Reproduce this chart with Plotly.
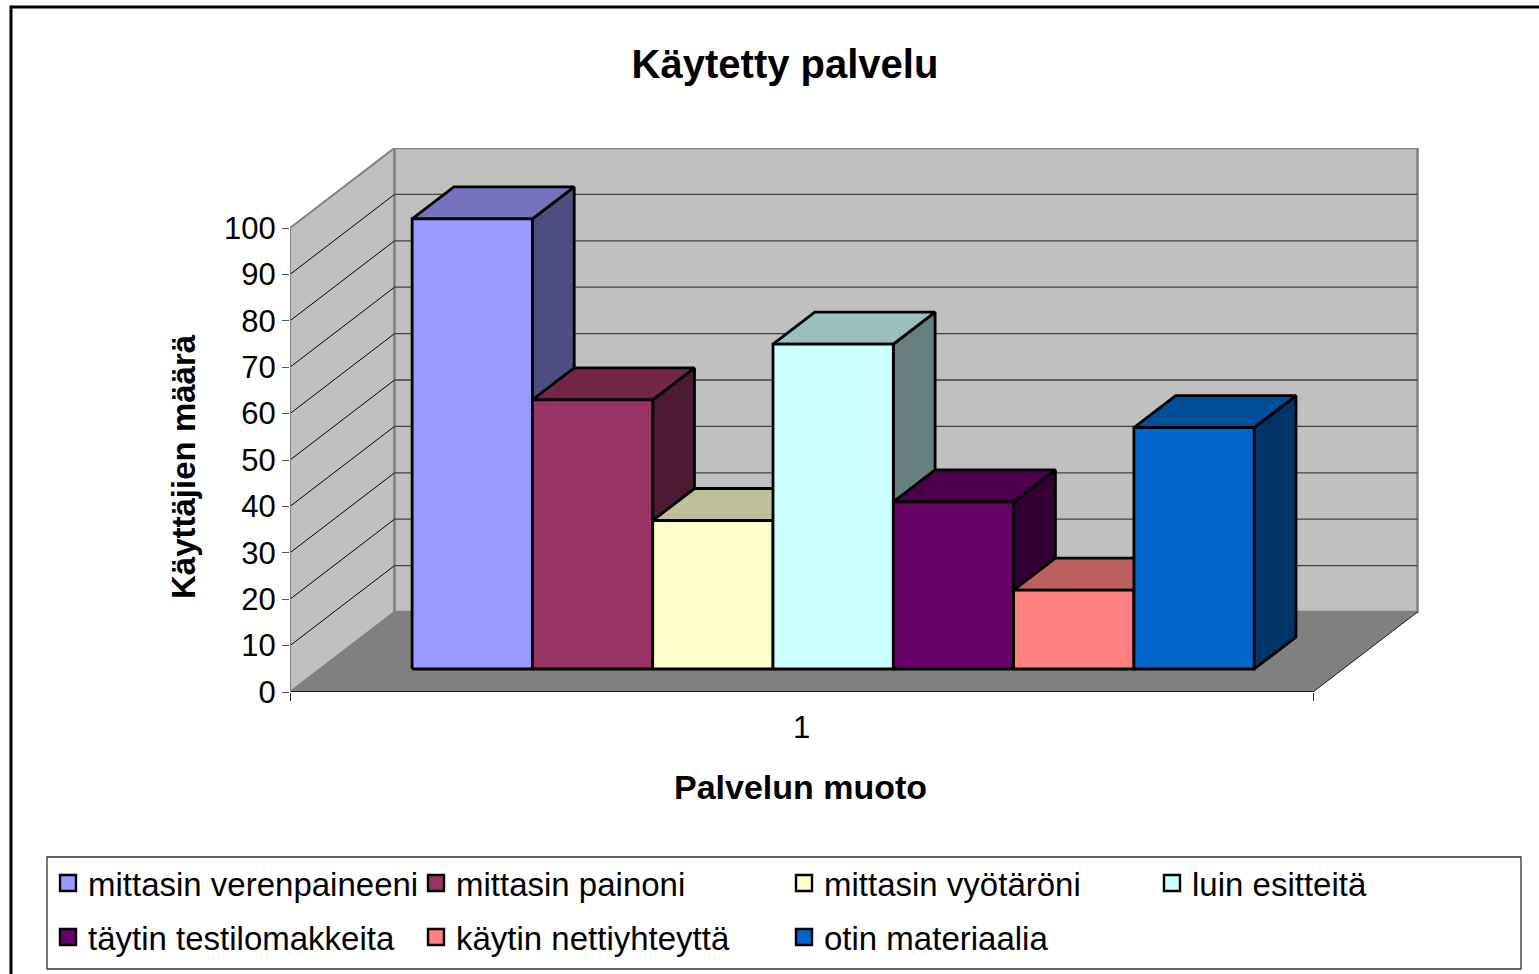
import plotly.graph_objects as go

TITLE = "Käytetty palvelu"
Y_TITLE = "Käyttäjien määrä"
X_TITLE = "Palvelun muoto"
CATEGORY = ["1"]
SERIES = ["mittasin verenpaineeni", "mittasin painoni", "mittasin vyötäröni", "luin esitteitä",
          "täytin testilomakkeita", "käytin nettiyhteyttä", "otin materiaalia"]
VALUES = [97, 58, 32, 70, 36, 17, 52]
COLORS = ["#9999FF", "#993366", "#FFFFCC", "#CCFFFF", "#660066", "#FF8080", "#0066CC"]
TOP_COLORS = ["#7373BF", "#732648", "#BFBF99", "#99BFBF", "#4D004D", "#BF6060", "#004D99"]
SIDE_COLORS = ["#4D4D80", "#4D1A33", "#808066", "#668080", "#330033", "#804040", "#003366"]
Y_TICKS = [0, 10, 20, 30, 40, 50, 60, 70, 80, 90, 100]

W, H = 1539, 974
L, R, T, B = 290, 1530, 148, 692          # plot area in pixels (wide enough for the legend rows)
PX_X = 1023.0                             # pixels per x unit (front width)
PX_Y = 4.64                               # pixels per y unit
DX = 104.5 / PX_X                         # depth projection in axis units
DY = 80.0 / PX_Y
D0, D1 = 0.2875, 0.6875                   # bar depth span
X0, BW = 0.09, 120.3 / PX_X               # first bar position, bar width
FONT = "Liberation Sans, Arial, sans-serif"


def px(x):
    return (x - L) / (R - L)


def py(y):
    return (B - y) / (B - T)


def P(x, y, d=0.0):
    return x + d * DX, y + d * DY


def poly(points, fill, line_color, line_width, name=""):
    xs = [p[0] for p in points] + [points[0][0]]
    ys = [p[1] for p in points] + [points[0][1]]
    return go.Scatter(x=xs, y=ys, mode="lines", fill="toself", fillcolor=fill,
                      line=dict(color=line_color, width=line_width), name=name,
                      showlegend=False, hoverinfo="skip", cliponaxis=False)


def seg(x, y, color, width):
    return go.Scatter(x=x, y=y, mode="lines", line=dict(color=color, width=width),
                      showlegend=False, hoverinfo="skip", cliponaxis=False)


YMAX = Y_TICKS[-1]
fig = go.Figure()

# walls and floor
fig.add_trace(poly([P(0, 0), P(0, 0, 1), P(0, YMAX, 1), P(0, YMAX)], "#C0C0C0", "#808080", 2))
fig.add_trace(poly([P(0, 0, 1), P(1, 0, 1), P(1, YMAX, 1), P(0, YMAX, 1)], "#C0C0C0", "#808080", 2.5))

# gridlines
gx, gy, bx, by = [], [], [], []
for v in Y_TICKS[1:-1]:
    a, b, c = P(0, v), P(0, v, 1), P(1, v, 1)
    gx += [a[0], b[0], None]
    gy += [a[1], b[1], None]
    bx += [b[0], c[0], None]
    by += [b[1], c[1], None]
fig.add_trace(seg(gx, gy, "#000000", 1))
fig.add_trace(seg(bx, by, "#404040", 1.3))

fig.add_trace(poly([P(0, 0), P(1, 0), P(1, 0, 1), P(0, 0, 1)], "#808080", "#808080", 0.5))
# floor edges and value axis
fig.add_trace(seg([P(1, 0)[0], P(1, 0, 1)[0]], [P(1, 0)[1], P(1, 0, 1)[1]], "#202020", 1))
fig.add_trace(seg([0, 1], [0, 0], "#000000", 1.3))
fig.add_trace(seg([0, 0], [0, YMAX], "#808080", 2))

# bars, drawn left to right so that each one hides the side of the previous one
LW = 2.8
for i, (v, c, tc, sc) in enumerate(zip(VALUES, COLORS, TOP_COLORS, SIDE_COLORS)):
    x0, x1 = X0 + i * BW, X0 + (i + 1) * BW
    fig.add_trace(poly([P(x1, 0, D0), P(x1, 0, D1), P(x1, v, D1), P(x1, v, D0)], sc, "#000000", LW, SERIES[i]))
    fig.add_trace(poly([P(x0, v, D0), P(x1, v, D0), P(x1, v, D1), P(x0, v, D1)], tc, "#000000", LW, SERIES[i]))
    fig.add_trace(poly([P(x0, 0, D0), P(x1, 0, D0), P(x1, v, D0), P(x0, v, D0)], c, "#000000", LW, SERIES[i]))

# legend entries
for i, (name, c) in enumerate(zip(SERIES, COLORS)):
    fig.add_trace(go.Scatter(x=[None], y=[None], mode="markers", name=name,
                             marker=dict(symbol="square", size=16, color=c,
                                         line=dict(color="#000000", width=2.4)),
                             legend="legend" if i < 4 else "legend2"))

legend_common = dict(orientation="h", xanchor="left", yanchor="middle", entrywidth=323,
                     entrywidthmode="pixels", bgcolor="rgba(0,0,0,0)", borderwidth=0,
                     font=dict(family=FONT, size=33, color="#000000"),
                     traceorder="normal", itemsizing="trace", itemclick=False, itemdoubleclick=False)

fig.update_layout(
    width=W, height=H, autosize=False,
    margin=dict(l=L, r=W - R, t=T, b=H - B, pad=0),
    paper_bgcolor="#FFFFFF", plot_bgcolor="rgba(0,0,0,0)",
    font=dict(family=FONT, color="#000000"),
    title=dict(text=f"<b>{TITLE}</b>", x=785 / W, xanchor="center", y=1 - 64 / H, yanchor="middle",
               font=dict(family=FONT, size=40, color="#000000")),
    xaxis=dict(range=[0, (R - L) / PX_X], tickvals=[0.5], ticktext=CATEGORY, ticks="", showgrid=False,
               zeroline=False, showline=False, tickfont=dict(family=FONT, size=31), ticklabelstandoff=14,
               minor=dict(tickvals=[0, 1], ticks="outside", ticklen=8, tickwidth=1, tickcolor="#303030")),
    yaxis=dict(range=[0, (B - T) / PX_Y], tickvals=Y_TICKS, ticks="outside", ticklen=7, tickwidth=1.3,
               tickcolor="#505050", showgrid=False, zeroline=False, showline=False,
               tickfont=dict(family=FONT, size=31)),
    legend=dict(x=px(48), y=py(883), **legend_common),
    legend2=dict(x=px(48), y=py(937), **legend_common),
    annotations=[
        dict(text=f"<b>{Y_TITLE}</b>", xref="paper", yref="paper", x=px(183), y=py(467), textangle=-90,
             xanchor="center", yanchor="middle", showarrow=False,
             font=dict(family=FONT, size=33, color="#000000")),
        dict(text=f"<b>{X_TITLE}</b>", xref="paper", yref="paper", x=px(800), y=py(787),
             xanchor="center", yanchor="middle", showarrow=False,
             font=dict(family=FONT, size=34, color="#000000")),
    ],
    shapes=[
        dict(type="rect", xref="paper", yref="paper", x0=px(11), x1=px(1600), y0=py(1020), y1=py(7),
             line=dict(color="#000000", width=3), layer="below"),
        dict(type="rect", xref="paper", yref="paper", x0=px(47), x1=px(1521), y0=py(969), y1=py(857),
             line=dict(color="#303030", width=1.3), layer="below"),
    ],
)

fig.write_html("out.html", config={"displayModeBar": False},
               post_script="document.body.style.margin='0';document.body.style.overflow='hidden';")
